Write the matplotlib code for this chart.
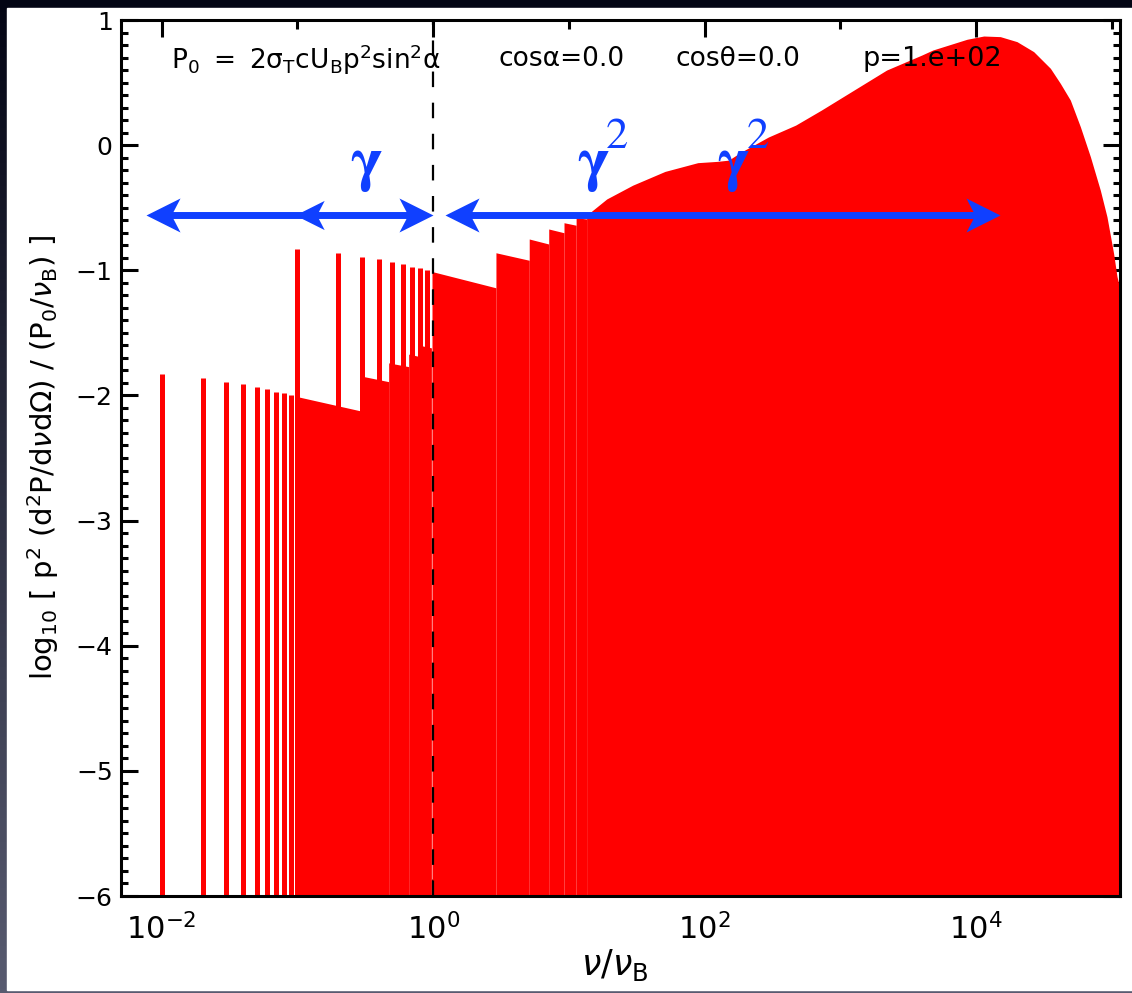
import numpy as np
import matplotlib
matplotlib.use('Agg')
import matplotlib.pyplot as plt
from matplotlib.path import Path
from matplotlib.patches import Rectangle
from matplotlib.ticker import FixedLocator, FuncFormatter, MultipleLocator, NullFormatter

plt.rcParams['font.family'] = ['DejaVu Sans']
plt.rcParams['mathtext.fontset'] = 'dejavusans'

# narrow harmonic lines below nu_B
spike_nu = [0.01, 0.02, 0.03, 0.04, 0.05, 0.06, 0.07, 0.08, 0.09,
            0.1, 0.2, 0.3, 0.4, 0.5, 0.6, 0.7, 0.8, 0.9]
spike_top = [-1.83, -1.86, -1.89, -1.91, -1.93, -1.95, -1.97, -1.98, -2.00,
             -0.83, -0.86, -0.89, -0.91, -0.93, -0.95, -0.97, -0.98, -1.00]

# stepped continuum (level at start and end of each step)
step_lo = [0.1, 0.31, 0.47, 0.66, 0.80, 0.98, 2.9, 5.1, 7.1, 9.2, 11.3]
step_hi = [0.31, 0.47, 0.66, 0.80, 0.97, 2.9, 5.1, 7.1, 9.2, 11.3, 13.5]
step_v0 = [-2.01, -1.85, -1.74, -1.67, -1.60, -1.01, -0.86, -0.75, -0.67, -0.62, -0.58]
step_v1 = [-2.13, -1.89, -1.77, -1.69, -1.62, -1.14, -0.92, -0.79, -0.70, -0.64, -0.59]

# smooth envelope at high frequency
env_nu = [13.5, 19, 29.5, 51, 89, 123, 150, 186, 295, 468, 724, 1175, 2190,
          3980, 4790, 8570, 11380, 15070, 20000, 26550, 35240, 41690, 49430,
          58610, 69500, 82220, 92040, 103000, 109100, 115000]
env_val = [-0.56, -0.43, -0.32, -0.21, -0.14, -0.13, -0.12, -0.055, 0.065, 0.16,
           0.28, 0.42, 0.60, 0.72, 0.76, 0.846, 0.872, 0.867, 0.827, 0.747, 0.614,
           0.494, 0.36, 0.147, -0.093, -0.36, -0.572, -0.865, -1.05, -1.15]

red = '#ff0000'
blue = '#1040ff'

fig = plt.figure(figsize=(11.32, 9.93), dpi=100)

# dark gradient frame behind a white panel
bg = fig.add_axes([0, 0, 1, 1], zorder=-10)
t = np.linspace(0, 1, 256)[:, None, None]
top_c = np.array([3, 5, 20]) / 255
bot_c = np.array([88, 91, 112]) / 255
grad = (1 - t) * top_c + t * bot_c
bg.imshow(np.repeat(grad, 4, axis=1), aspect='auto', extent=[0, 1, 0, 1], origin='upper')
bg.add_patch(Rectangle((7 / 1132, 3 / 993), 1, 982 / 993, color='white', transform=bg.transAxes))
bg.set_axis_off()

ax = fig.add_axes([121 / 1132, 97 / 993, 999 / 1132, 876 / 993])
ax.set_xscale('log')
ax.set_xlim(10 ** -2.30, 10 ** 5.06)
ax.set_ylim(-6, 1)

ax.vlines(spike_nu, -6, spike_top, colors=red, lw=3.6, zorder=2)
for lo, hi, v0, v1 in zip(step_lo, step_hi, step_v0, step_v1):
    ax.fill_between([lo, hi], [v0, v1], -6, color=red, lw=0, zorder=2)
ax.fill_between(env_nu, env_val, -6, color=red, lw=0, zorder=2)

ax.axvline(1, color='black', lw=1.6, ls=(0, (7, 7)), zorder=3)

# arrows
head_r = Path([(0, 0), (-1, 0.5), (-0.74, 0), (-1, -0.5), (0, 0)],
              [Path.MOVETO, Path.LINETO, Path.LINETO, Path.LINETO, Path.CLOSEPOLY])
head_l = Path([(0, 0), (1, 0.5), (0.74, 0), (1, -0.5), (0, 0)],
              [Path.MOVETO, Path.LINETO, Path.LINETO, Path.LINETO, Path.CLOSEPOLY])
ya = -0.56
for x0, x1 in [(0.0077, 1.0), (1.22, 1.5e4)]:
    ax.plot([x0 * 1.15, x1 / 1.15], [ya, ya], color=blue, lw=5, solid_capstyle='butt', zorder=4)
    ax.plot([x0], [ya], marker=head_l, ms=49, color=blue, mew=0, ls='none', zorder=5)
    ax.plot([x1], [ya], marker=head_r, ms=49, color=blue, mew=0, ls='none', zorder=5)
ax.plot([0.096], [ya], marker=head_l, ms=42, color=blue, mew=0, ls='none', zorder=5)

gfont = dict(family='STIXGeneral', color=blue, zorder=6)
ax.text(0.32, -0.16, 'γ', fontsize=44, weight='bold', ha='center', va='center', **gfont)
for xg, x2 in [(15.1, 22.7), (162, 248)]:
    ax.text(xg, -0.16, 'γ', fontsize=44, weight='bold', ha='center', va='center', **gfont)
    ax.text(x2, 0.06, '2', fontsize=32, ha='center', va='center', **gfont)

# header text
ax.text(0.05, 0.955, r'$\mathrm{P_0\ =\ 2\sigma_T cU_B p^2 sin^2\alpha}$', transform=ax.transAxes,
        fontsize=19, va='center', ha='left', zorder=6)
ax.text(0.378, 0.955, 'cosα=0.0', transform=ax.transAxes, fontsize=19, va='center', zorder=6)
ax.text(0.555, 0.955, 'cosθ=0.0', transform=ax.transAxes, fontsize=19, va='center', zorder=6)
ax.text(0.742, 0.955, 'p=1.e+02', transform=ax.transAxes, fontsize=19.5, va='center', zorder=6)

# axes styling
for s in ax.spines.values():
    s.set_linewidth(2.2)
ax.xaxis.set_major_locator(FixedLocator([1e-2, 1e0, 1e2, 1e4]))
ax.xaxis.set_minor_locator(FixedLocator([1e-1, 1e1, 1e3, 1e5]))
ax.xaxis.set_major_formatter(FuncFormatter(lambda v, p: r'$10^{%d}$' % round(np.log10(v))))
ax.xaxis.set_minor_formatter(NullFormatter())
ax.yaxis.set_major_locator(MultipleLocator(1))
ax.yaxis.set_minor_locator(MultipleLocator(0.1))
ax.tick_params(which='both', direction='in', top=True, right=True, width=2.2)
ax.tick_params(axis='y', which='major', length=12, labelsize=18, pad=6)
ax.tick_params(axis='y', which='minor', length=5)
ax.tick_params(axis='x', which='major', length=12, labelsize=22, pad=12)
ax.tick_params(axis='x', which='minor', length=6.5)

ax.text(-0.078, 0.5, r'log$_{10}$ [ p$^2$ (d$^2$P/d$\nu$d$\Omega$) / (P$_0$/$\nu_\mathrm{B}$) ]',
        transform=ax.transAxes, rotation=90, ha='center', va='center', fontsize=21)
ax.text(0.494, -0.079, r'$\nu/\nu_\mathrm{B}$', transform=ax.transAxes, ha='center', va='center',
        fontsize=25)

fig.savefig('out.png', dpi=100)
